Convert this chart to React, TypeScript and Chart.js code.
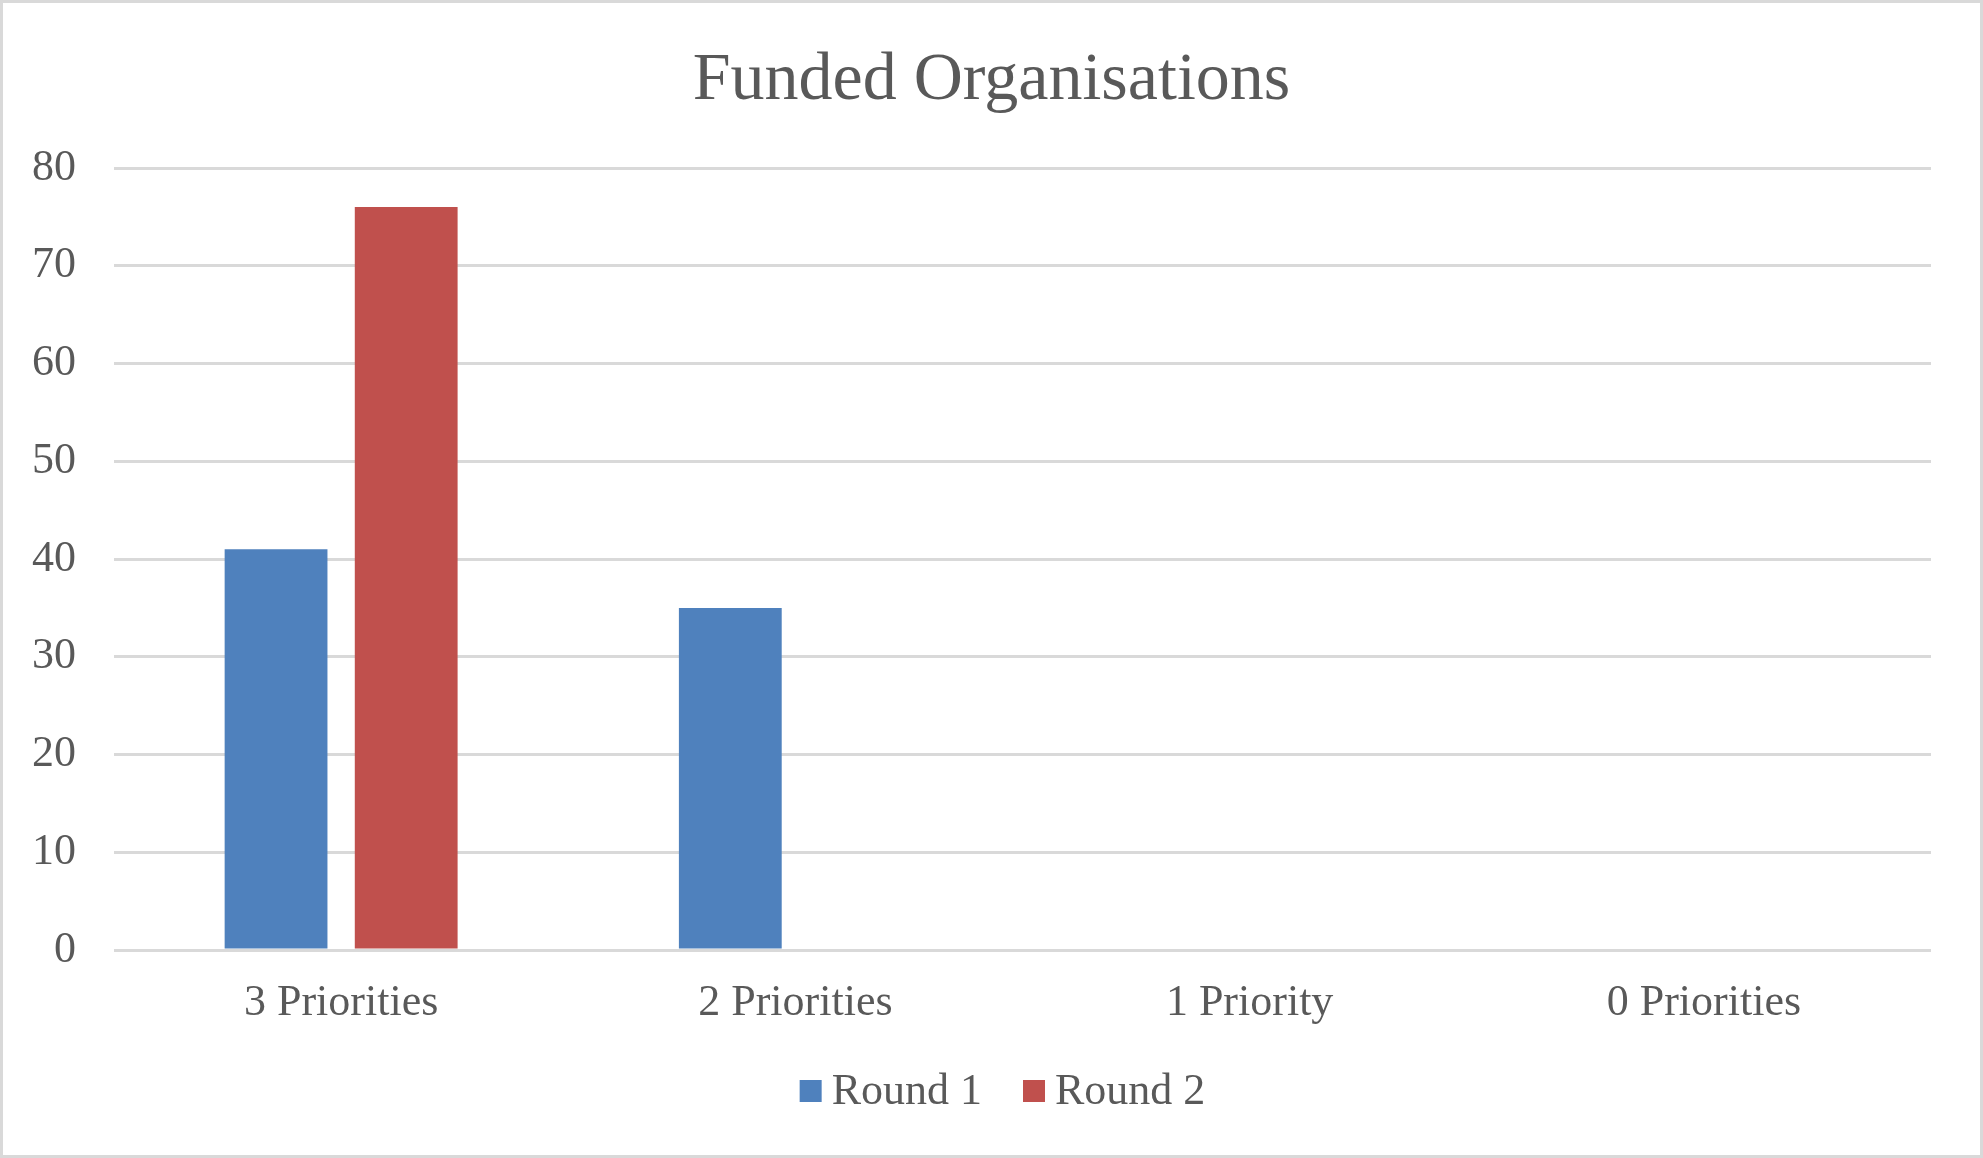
import React, { useEffect, useRef } from "react";
import { Chart, registerables } from "chart.js";

Chart.register(...registerables);

// ---- Data ----
const categories: string[] = ["3 Priorities", "2 Priorities", "1 Priority", "0 Priorities"];
const seriesNames: string[] = ["Round 1", "Round 2"];
const round1: number[] = [41, 35, 0, 0];
const round2: number[] = [76, 0, 0, 0];
const yMin = 0;
const yMax = 80;
const yStep = 10;
const chartTitle = "Funded Organisations";

// ---- Styles ----
const FONT = "'Liberation Serif', 'Times New Roman', serif";
const TEXT = "#595959";
const GRID = "#d9d9d9";
const COLORS = ["#4f81bd", "#c0504d"];

const framePlugin = {
  id: "frameAndLegend",
  beforeDraw(chart: any) {
    const { ctx, width, height } = chart;
    ctx.save();
    ctx.fillStyle = "#ffffff";
    ctx.fillRect(0, 0, width, height);
    ctx.strokeStyle = GRID;
    ctx.lineWidth = 3;
    ctx.strokeRect(1.5, 1.5, width - 3, height - 3);
    ctx.restore();
  },
  afterDraw(chart: any) {
    const { ctx, width } = chart;
    const datasets = chart.data.datasets;
    ctx.save();
    ctx.font = `44px ${FONT}`;
    ctx.textBaseline = "middle";
    ctx.textAlign = "left";
    const box = 22;
    const gap = 10;
    const itemGap = 41;
    const widths = datasets.map((d: any) => ctx.measureText(d.label).width);
    let total = 0;
    widths.forEach((w: number, i: number) => {
      total += box + gap + w + (i < widths.length - 1 ? itemGap : 0);
    });
    let x = width / 2 + 11 - total / 2;
    const cy = 1091;
    datasets.forEach((d: any, i: number) => {
      ctx.fillStyle = d.backgroundColor;
      ctx.fillRect(x, cy - box / 2, box, box);
      x += box + gap;
      ctx.fillStyle = TEXT;
      ctx.fillText(d.label, x, cy + 1);
      x += widths[i] + itemGap;
    });
    ctx.restore();
  },
};

export default function App() {
  const canvasRef = useRef<HTMLCanvasElement | null>(null);

  useEffect(() => {
    if (!canvasRef.current) return;
    const chart = new Chart(canvasRef.current, {
      type: "bar",
      data: {
        labels: categories,
        datasets: [
          {
            label: seriesNames[0],
            data: round1,
            backgroundColor: COLORS[0],
            borderWidth: 0,
            categoryPercentage: 0.573,
            barPercentage: 0.79,
          },
          {
            label: seriesNames[1],
            data: round2,
            backgroundColor: COLORS[1],
            borderWidth: 0,
            categoryPercentage: 0.573,
            barPercentage: 0.79,
          },
        ],
      },
      options: {
        animation: false,
        responsive: true,
        maintainAspectRatio: false,
        devicePixelRatio: 1,
        layout: { padding: { left: 0, right: 0, top: 0, bottom: 128 } },
        plugins: {
          legend: { display: false },
          tooltip: { enabled: false },
          title: {
            display: true,
            text: chartTitle,
            color: TEXT,
            font: { family: FONT, size: 68, weight: "normal", lineHeight: 1.2 },
            padding: { top: 40, bottom: 46.4 },
          },
        },
        scales: {
          x: {
            grid: { display: false, drawTicks: false },
            border: { display: false },
            ticks: {
              color: TEXT,
              font: { family: FONT, size: 44, lineHeight: 1.2 },
              padding: 26.6,
              maxRotation: 0,
              autoSkip: false,
            },
            afterFit(scale: any) {
              scale.height = 80;
            },
          },
          y: {
            min: yMin,
            max: yMax,
            grid: { color: GRID, lineWidth: 3, drawTicks: false },
            border: { display: false },
            ticks: {
              stepSize: yStep,
              color: TEXT,
              font: { family: FONT, size: 44, lineHeight: 1.2 },
              padding: 38,
            },
            afterFit(scale: any) {
              scale.width = 114;
            },
          },
          yRight: {
            type: "linear",
            position: "right",
            min: yMin,
            max: yMax,
            grid: { display: false, drawTicks: false },
            border: { display: false },
            ticks: { display: false },
            afterFit(scale: any) {
              scale.width = 52;
            },
          },
        },
      },
      plugins: [framePlugin],
    });
    return () => chart.destroy();
  }, []);

  return (
    <div
      style={{
        position: "fixed",
        left: 0,
        top: 0,
        width: 1983,
        height: 1158,
        background: "#fff",
      }}
    >
      <canvas ref={canvasRef} />
    </div>
  );
}
